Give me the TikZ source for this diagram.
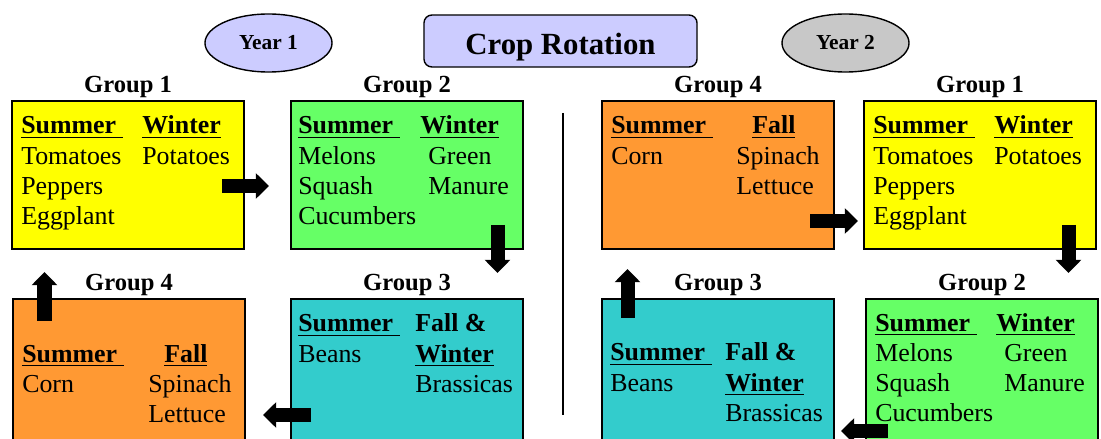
\documentclass[tikz,border=0pt]{standalone}
\usepackage{fontspec}
\setmainfont{Liberation Serif}
\usepackage{array}
\usetikzlibrary{arrows.meta, positioning, shapes.geometric}

\definecolor{cropyellow}{HTML}{FFFF00}
\definecolor{cropgreen}{HTML}{66FF66}
\definecolor{croporange}{HTML}{FF9933}
\definecolor{cropteal}{HTML}{33CCCC}
\definecolor{croplilac}{HTML}{CCCCFF}
\definecolor{cropgrey}{HTML}{C8C8C8}

\tikzset{
  cropbox/.style={draw, line width=1.4pt, anchor=north west, minimum width=5.8cm,
    minimum height=3.7cm, inner sep=0pt},
  grouplabel/.style={inner sep=0pt, font=\fontsize{17.5}{21}\selectfont\bfseries},
  croplist/.style={anchor=base west, inner sep=0pt, font=\fontsize{18.4}{21.34}\selectfont},
  yearoval/.style={ellipse, draw, line width=1pt, minimum width=3.175cm,
    minimum height=1.45cm, inner sep=0pt, font=\fontsize{15.2}{18}\selectfont\bfseries},
  blockarrow/.style={line width=0.35cm, -{Triangle[width=0.625cm,length=0.33cm]}},
}
\newsavebox{\cropheadbox}
\newcommand{\crophead}[1]{\leavevmode\sbox{\cropheadbox}{\textbf{#1}}%
  \rlap{\rule[-3pt]{\wd\cropheadbox}{1.2pt}}\usebox{\cropheadbox}}

\begin{document}
\begin{tikzpicture}[x=0.025cm, y=-0.025cm]
\useasboundingbox (0,0) rectangle (1101,439);

% title and years
\node[draw, line width=1pt, rounded corners=0.2cm, fill=croplilac, minimum width=6.825cm,
  minimum height=1.3cm, inner sep=0pt, text height=0.66cm, text depth=0pt,
  font=\fontsize{21.9}{26}\selectfont\bfseries] (title) at (560.5,41) {Crop Rotation};
\node[yearoval, fill=croplilac] (year1) at (268.5,43) {Year 1};
\node[yearoval, fill=cropgrey] (year2) at (845.5,43) {Year 2};

% year 1
\node[cropbox, fill=cropyellow] (y1g1) at (11,100) {};
\node[cropbox, fill=cropgreen] (y1g2) at (290,100) {};
\node[cropbox, fill=croporange] (y1g4) at (12,298) {};
\node[cropbox, fill=cropteal] (y1g3) at (290,298) {};
\node[grouplabel, above=1.6pt of y1g1] (y1g1lab) {Group 1};
\node[grouplabel, above=1.6pt of y1g2] (y1g2lab) {Group 2};
\node[grouplabel, above=1.6pt of y1g4] (y1g4lab) {Group 4};
\node[grouplabel, above=1.6pt of y1g3] (y1g3lab) {Group 3};

\node[croplist] (y1g1list) at ([shift={(10,34)}]y1g1.north west)
  {\begin{tabular}[t]{@{}p{3.025cm}@{}l@{}}
   \crophead{Summer\ } & \crophead{Winter}\\
   Tomatoes & Potatoes\\
   Peppers & \\
   Eggplant &
   \end{tabular}};
\node[croplist] (y1g2list) at ([shift={(8,34)}]y1g2.north west)
  {\begin{tabular}[t]{@{}p{3.05cm}@{}l@{}}
   \crophead{Summer\ } & \crophead{Winter}\\
   Melons & \hspace{0.2cm}Green\\
   Squash & \hspace{0.2cm}Manure\\
   Cucumbers &
   \end{tabular}};
\node[croplist] (y1g4list) at ([shift={(10,64)}]y1g4.north west)
  {\begin{tabular}[t]{@{}p{3.15cm}@{}l@{}}
   \crophead{Summer\ } & \hspace{0.4cm}\crophead{Fall}\\
   Corn & Spinach\\
   & Lettuce
   \end{tabular}};
\node[croplist] (y1g3list) at ([shift={(8,34)}]y1g3.north west)
  {\begin{tabular}[t]{@{}p{2.925cm}@{}l@{}}
   \crophead{Summer\ } & \textbf{Fall \&}\\
   Beans & \crophead{Winter}\\
   & Brassicas
   \end{tabular}};

% year 2
\node[cropbox, fill=croporange] (y2g4) at (601,100) {};
\node[cropbox, fill=cropyellow] (y2g1) at (863,100) {};
\node[cropbox, fill=cropteal] (y2g3) at (601,298) {};
\node[cropbox, fill=cropgreen] (y2g2) at (865,298) {};
\node[grouplabel, above=1.6pt of y2g4] (y2g4lab) {Group 4};
\node[grouplabel, above=1.6pt of y2g1] (y2g1lab) {Group 1};
\node[grouplabel, above=1.6pt of y2g3] (y2g3lab) {Group 3};
\node[grouplabel, above=1.6pt of y2g2] (y2g2lab) {Group 2};

\node[croplist] (y2g4list) at ([shift={(10,34)}]y2g4.north west)
  {\begin{tabular}[t]{@{}p{3.125cm}@{}l@{}}
   \crophead{Summer\ } & \hspace{0.4cm}\crophead{Fall}\\
   Corn & Spinach\\
   & Lettuce
   \end{tabular}};
\node[croplist] (y2g1list) at ([shift={(10,34)}]y2g1.north west)
  {\begin{tabular}[t]{@{}p{3.025cm}@{}l@{}}
   \crophead{Summer\ } & \crophead{Winter}\\
   Tomatoes & Potatoes\\
   Peppers & \\
   Eggplant &
   \end{tabular}};
\node[croplist] (y2g3list) at ([shift={(9,63)}]y2g3.north west)
  {\begin{tabular}[t]{@{}p{2.875cm}@{}l@{}}
   \crophead{Summer\ } & \textbf{Fall \&}\\
   Beans & \crophead{Winter}\\
   & Brassicas
   \end{tabular}};
\node[croplist] (y2g2list) at ([shift={(10,33)}]y2g2.north west)
  {\begin{tabular}[t]{@{}p{3.025cm}@{}l@{}}
   \crophead{Summer\ } & \crophead{Winter}\\
   Melons & \hspace{0.2cm}Green\\
   Squash & \hspace{0.2cm}Manure\\
   Cucumbers &
   \end{tabular}};

% divider
\draw[line width=0.8pt] (563,113) -- (563,415);

% arrows
\coordinate (y1a1s) at (222,186);   \coordinate (y1a1e) at (269,186);
\coordinate (y1a2s) at (497.5,225); \coordinate (y1a2e) at (497.5,273);
\coordinate (y1a3s) at (311,415);   \coordinate (y1a3e) at (263,415);
\coordinate (y1a4s) at (44.5,321);  \coordinate (y1a4e) at (44.5,272);
\coordinate (y2a1s) at (810,221);   \coordinate (y2a1e) at (858,221);
\coordinate (y2a2s) at (1068.5,225);\coordinate (y2a2e) at (1068.5,273);
\coordinate (y2a3s) at (888,431);   \coordinate (y2a3e) at (841,431);
\coordinate (y2a4s) at (627.5,318); \coordinate (y2a4e) at (627.5,269);
\foreach \a in {y1a1,y1a2,y1a3,y1a4,y2a1,y2a2,y2a3,y2a4}
  \draw[blockarrow] (\a s) -- (\a e);
\end{tikzpicture}
\end{document}
